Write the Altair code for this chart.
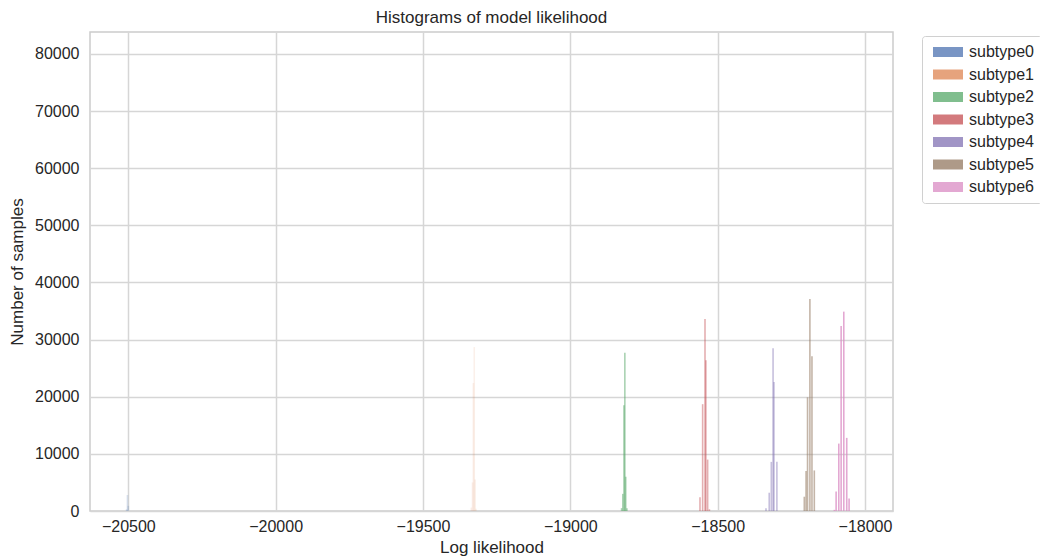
import altair as alt
import pandas as pd

subtypes = ["subtype0", "subtype1", "subtype2", "subtype3", "subtype4", "subtype5", "subtype6"]
colors = ["#4c72b0", "#dd8452", "#55a868", "#c44e52", "#8172b3", "#937860", "#da8bc3"]
opacities = [0.2, 0.12, 0.5, 0.45, 0.45, 0.55, 0.75]

s0_x = [-20506, -20503, -20500]
s0_n = [300, 2800, 900]
s1_x = [-19336, -19332, -19329, -19326, -19323, -19320]
s1_n = [600, 5000, 22400, 28700, 5500, 400]
s2_x = [-18826, -18822, -18818, -18815, -18812, -18808]
s2_n = [500, 3000, 18500, 27700, 6000, 500]
s3_x = [-18560, -18551, -18543, -18540, -18534, -18528]
s3_n = [2400, 18700, 33600, 26400, 9000, 300]
s4_x = [-18336, -18325, -18318, -18312, -18309, -18299]
s4_n = [500, 3200, 8600, 28500, 22600, 8600]
s5_x = [-18206, -18200, -18195, -18187, -18180, -18172]
s5_n = [2500, 7000, 19900, 37100, 27100, 7100]
s6_x = [-18104, -18098, -18089, -18081, -18072, -18062, -18054]
s6_n = [200, 3400, 11800, 32400, 34900, 12800, 2200]

xs = [s0_x, s1_x, s2_x, s3_x, s4_x, s5_x, s6_x]
ns = [s0_n, s1_n, s2_n, s3_n, s4_n, s5_n, s6_n]

rows = []
for name, xv, nv in zip(subtypes, xs, ns):
    for a, b in zip(xv, nv):
        rows.append({"subtype": name, "loglik": a, "count": b})
df = pd.DataFrame(rows)

FONT = "Liberation Sans"
TICK_FS = 16
TITLE_FS = 17

x_enc = alt.X("loglik:Q",
              scale=alt.Scale(domain=[-20630, -17905], nice=False, zero=False, padding=0),
              axis=alt.Axis(title="Log likelihood", values=[-20500, -20000, -19500, -19000, -18500, -18000],
                            format="d", labelPadding=7, titlePadding=5))
y_enc = alt.Y("count:Q",
              scale=alt.Scale(domain=[0, 83850], nice=False, padding=0),
              axis=alt.Axis(title="Number of samples",
                            values=[0, 10000, 20000, 30000, 40000, 50000, 60000, 70000, 80000],
                            format="d", labelPadding=11, titlePadding=8))

base = alt.Chart(df)

bars = base.transform_calculate(group="datum.subtype").mark_bar(size=1.6).encode(
    x=x_enc,
    y=y_enc,
    color=alt.Color("subtype:N", scale=alt.Scale(domain=subtypes, range=colors), legend=None),
    opacity=alt.Opacity("group:N", scale=alt.Scale(type="ordinal", domain=subtypes, range=opacities),
                        legend=None),
)

legend_layer = base.mark_bar(opacity=0.75, size=1).encode(
    x=alt.X("loglik:Q"),
    y=alt.value(479),
    y2=alt.value(479),
    color=alt.Color("subtype:N",
                    scale=alt.Scale(domain=subtypes, range=colors),
                    legend=alt.Legend(title=None, orient="none", legendX=832, legendY=4,
                                      symbolType="M-1,-1H5V1H-1Z", symbolSize=100,
                                      symbolOpacity=0.75, symbolStrokeWidth=0,
                                      labelFontSize=TICK_FS, labelFont=FONT, labelColor="#262626",
                                      labelOffset=23, rowPadding=6.5, padding=8,
                                      fillColor="white", strokeColor="#d0d0d0", cornerRadius=3)),
)

chart = alt.layer(bars, legend_layer).resolve_scale(color="independent").properties(
    width=803, height=479,
    title=alt.TitleParams("Histograms of model likelihood", fontSize=TITLE_FS, font=FONT, fontWeight="normal",
                          color="#262626", offset=5, anchor="middle"),
    autosize=alt.AutoSizeParams(type="none"),
    padding={"left": 90, "top": 32, "right": 147, "bottom": 49},
).configure(
    background="white"
).configure_view(
    stroke="#cccccc", strokeWidth=1.5
).configure_axis(
    grid=True, gridColor="#d6d6d6", gridWidth=1.5, domain=False, ticks=False,
    labelFont=FONT, labelFontSize=TICK_FS, labelColor="#262626",
    titleFont=FONT, titleFontSize=TITLE_FS, titleFontWeight="normal", titleColor="#262626",
)

chart.save("out.html", embed_options={"renderer": "svg", "actions": False})
